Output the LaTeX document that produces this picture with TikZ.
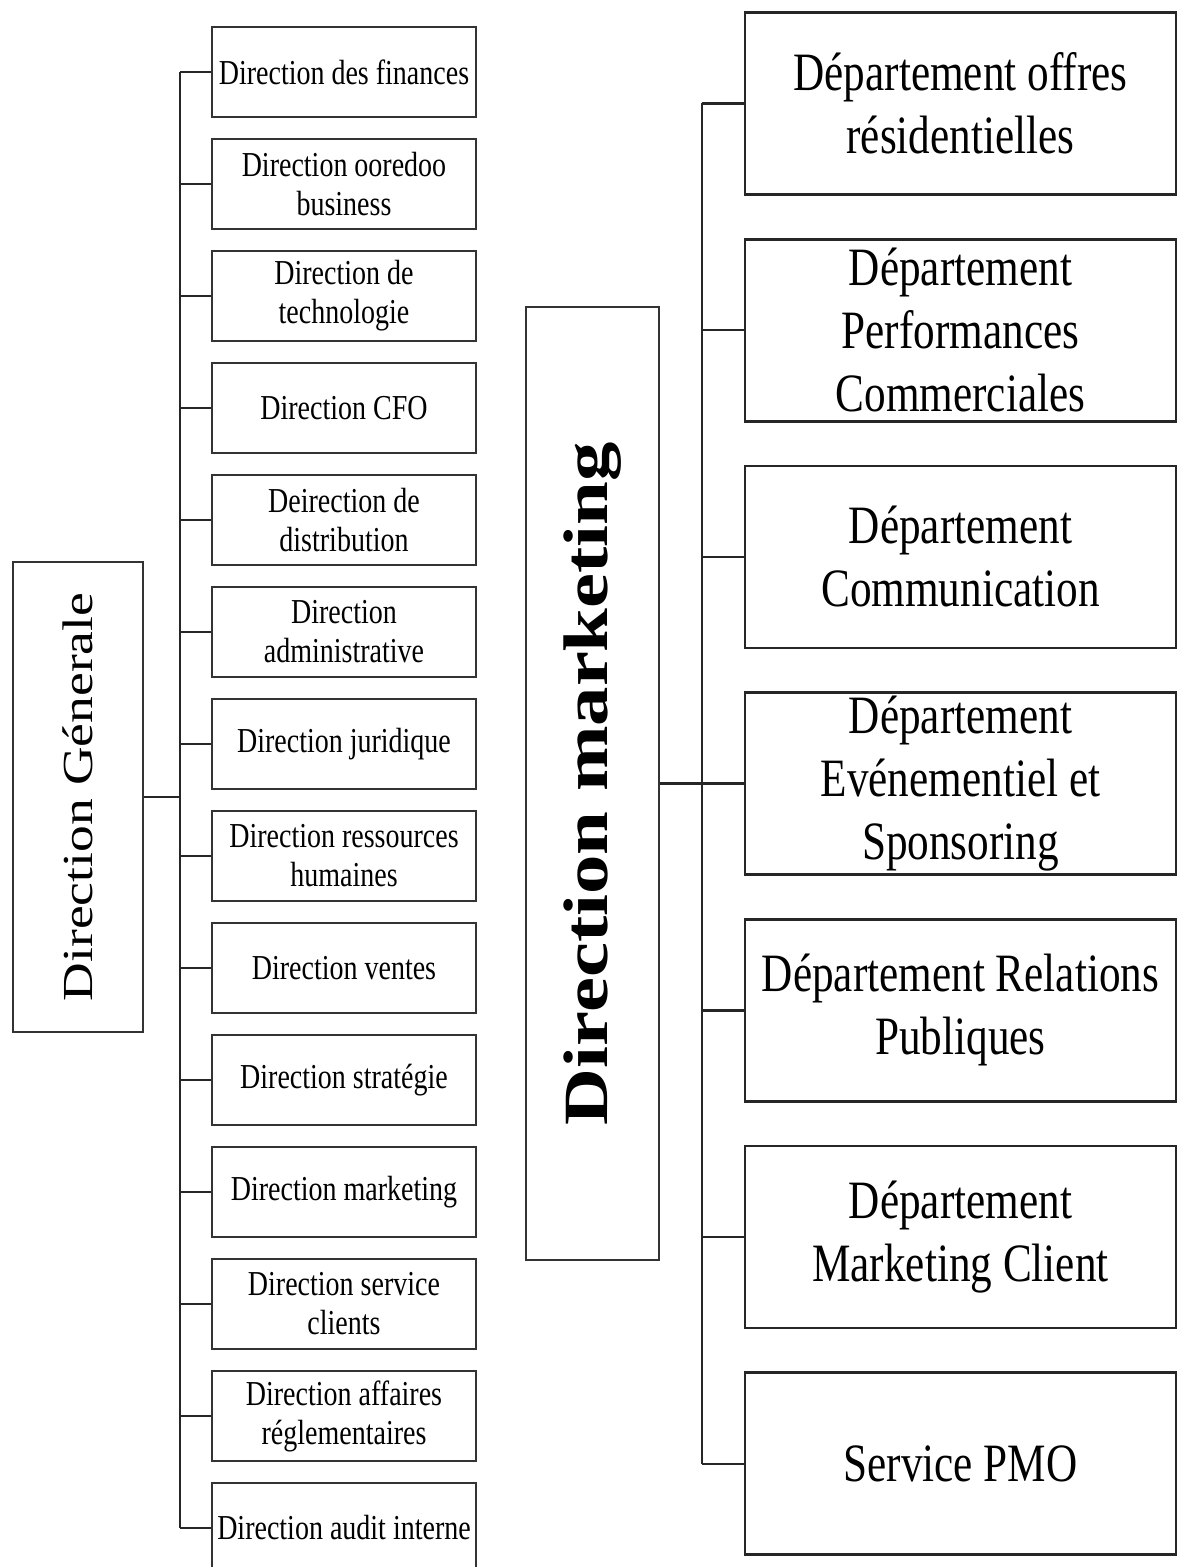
\documentclass[tikz,border=0pt]{standalone}
\usepackage{fontspec}
\setmainfont{Liberation Serif}
\newfontfamily\narrowfont[FakeStretch=0.8]{Liberation Serif}
\newfontfamily\widefont[FakeStretch=1.25]{Liberation Serif}
\usepackage{tikz}

\begin{document}
\begin{tikzpicture}[x=0.5pt, y=-0.5pt,
        dirbox/.style={draw=black!80, line width=1.2pt, inner sep=0pt, align=center,
            minimum width=132pt, minimum height=45pt,
            font=\narrowfont\fontsize{17.5}{19.5}\selectfont},
        depbox/.style={draw=black!85, line width=1.4pt, inner sep=0pt, align=center,
            minimum width=215.5pt, minimum height=91pt,
            font=\narrowfont\fontsize{27}{31.5}\selectfont},
        headbox/.style={draw=black!80, line width=1.2pt, inner sep=0pt, rotate=90},
        link/.style={draw=black!85, line width=1.2pt}]
        \useasboundingbox (0, 0) rectangle (1178, 1567);

        \node[headbox, minimum width=235pt, minimum height=65pt,
            font=\widefont\fontsize{21.4}{25}\selectfont] (gen) at (78, 797) {Direction Génerale};

        \node[dirbox] (d1) at (344, 72) {Direction des finances};
        \node[dirbox] (d2) at (344, 184) {Direction ooredoo\\business};
        \node[dirbox] (d3) at (344, 296) {Direction de\\technologie};
        \node[dirbox] (d4) at (344, 408) {Direction CFO};
        \node[dirbox] (d5) at (344, 520) {Deirection de\\distribution};
        \node[dirbox] (d6) at (344, 632) {Direction\\administrative};
        \node[dirbox] (d7) at (344, 744) {Direction juridique};
        \node[dirbox] (d8) at (344, 856) {Direction ressources\\humaines};
        \node[dirbox] (d9) at (344, 968) {Direction ventes};
        \node[dirbox] (d10) at (344, 1080) {Direction stratégie};
        \node[dirbox] (d11) at (344, 1192) {Direction marketing};
        \node[dirbox] (d12) at (344, 1304) {Direction service\\clients};
        \node[dirbox] (d13) at (344, 1416) {Direction affaires\\réglementaires};
        \node[dirbox] (d14) at (344, 1528) {Direction audit interne};

        \coordinate (lbus) at (180, 0);
        \draw[link] (gen) -- (lbus |- gen);
        \draw[link] (lbus |- d1) -- (lbus |- d14);
        \draw[link] (lbus |- d1) -- (d1.west)
            (lbus |- d2) -- (d2.west)
            (lbus |- d3) -- (d3.west)
            (lbus |- d4) -- (d4.west)
            (lbus |- d5) -- (d5.west)
            (lbus |- d6) -- (d6.west)
            (lbus |- d7) -- (d7.west)
            (lbus |- d8) -- (d8.west)
            (lbus |- d9) -- (d9.west)
            (lbus |- d10) -- (d10.west)
            (lbus |- d11) -- (d11.west)
            (lbus |- d12) -- (d12.west)
            (lbus |- d13) -- (d13.west)
            (lbus |- d14) -- (d14.west);

        \node[headbox, minimum width=476.5pt, minimum height=66.5pt,
            font=\widefont\bfseries\fontsize{31.5}{36}\selectfont] (mkt) at (592.5, 783.5) {Direction marketing};

        \node[depbox] (p1) at (960.5, 103.5) {Département offres\\résidentielles};
        \node[depbox] (p2) at (960.5, 330.2) {Département\\Performances\\Commerciales};
        \node[depbox] (p3) at (960.5, 556.9) {Département\\Communication};
        \node[depbox] (p4) at (960.5, 783.6) {Département\\Evénementiel et\\Sponsoring};
        \node[depbox] (p5) at (960.5, 1010.3) {Département Relations\\Publiques};
        \node[depbox] (p6) at (960.5, 1237) {Département\\Marketing Client};
        \node[depbox] (p7) at (960.5, 1463.7) {Service PMO};

        \coordinate (rbus) at (702, 0);
        \draw[link] (mkt) -- (rbus |- mkt);
        \draw[link] (rbus |- p1) -- (rbus |- p7);
        \draw[link] (rbus |- p1) -- (p1.west)
            (rbus |- p2) -- (p2.west)
            (rbus |- p3) -- (p3.west)
            (rbus |- p4) -- (p4.west)
            (rbus |- p5) -- (p5.west)
            (rbus |- p6) -- (p6.west)
            (rbus |- p7) -- (p7.west);
    \end{tikzpicture}
\end{document}
